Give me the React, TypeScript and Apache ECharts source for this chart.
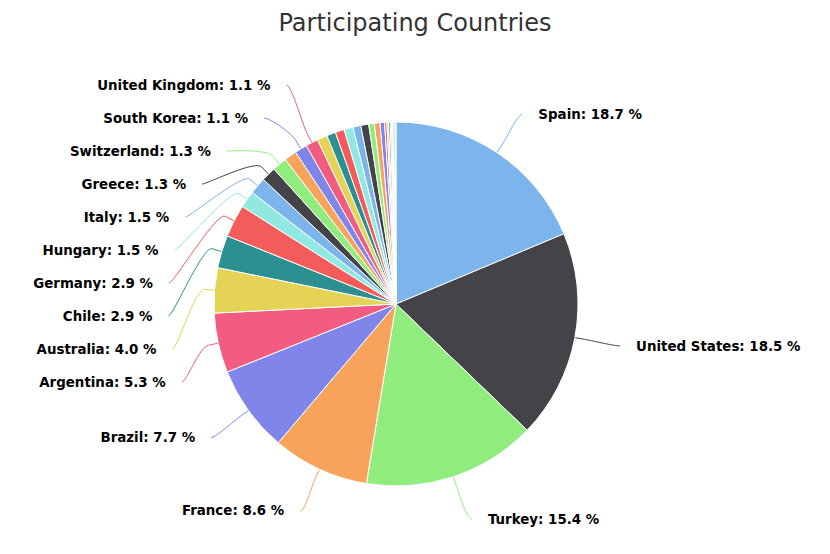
import React, { useEffect, useRef } from 'react';
import * as echarts from 'echarts';

const titleText = 'Participating Countries';

const countries = [
  'Spain', 'United States', 'Turkey', 'France', 'Brazil', 'Argentina', 'Australia',
  'Chile', 'Germany', 'Hungary', 'Italy', 'Greece', 'Switzerland', 'Other 1',
  'South Korea', 'United Kingdom',
  'Other 2', 'Other 3', 'Other 4', 'Other 5', 'Other 6', 'Other 7', 'Other 8',
  'Other 9', 'Other 10', 'Other 11', 'Other 12', 'Other 13', 'Other 14', 'Other 15',
  'Other 16', 'Other 17', 'Other 18',
];

const shares = [
  18.7, 18.5, 15.4, 8.6, 7.7, 5.3, 4.0,
  2.9, 2.9, 1.5, 1.5, 1.3, 1.3, 1.1,
  1.1, 1.1,
  0.9, 0.8, 0.8, 0.8, 0.7, 0.7, 0.5,
  0.5, 0.4, 0.2, 0.15, 0.15, 0.1, 0.1,
  0.1, 0.1, 0.1,
];

const labelledCountries = [
  'Spain', 'United States', 'Turkey', 'France', 'Brazil', 'Argentina', 'Australia',
  'Chile', 'Germany', 'Hungary', 'Italy', 'Greece', 'Switzerland', 'South Korea',
  'United Kingdom',
];

const palette = ['#7cb5ec', '#434348', '#90ed7d', '#f7a35c', '#8085e9', '#f15c80', '#e4d354', '#2b908f', '#f45b5b', '#91e8e1'];

// layout constants
const CX = 396;
const CY = 304;
const R_PIE = 182;
const R_LBL = 228;
const GAP = 16;
const LINE_H = 33;
const TOP = 85;
const BOTTOM = 519;
const BREAK = 10;
const SOFT = 5;
const STEPS = 20;

type LabelPos = { x: number; y: number; align: string; pts: number[][] };

function cubic(p0: number[], c1: number[], c2: number[], p1: number[], t: number) {
  const u = 1 - t;
  const a = u * u * u, b = 3 * u * u * t, c = 3 * u * t * t, d = t * t * t;
  return [
    a * p0[0] + b * c1[0] + c * c2[0] + d * p1[0],
    a * p0[1] + b * c1[1] + c * c2[1] + d * p1[1],
  ];
}

function computeLabels(): Record<number, LabelPos> {
  const total = shares.reduce((a, b) => a + b, 0);
  let cum = 0;
  const items: any[] = [];
  shares.forEach((v, i) => {
    const mid = (cum + v / 2) / total;
    cum += v;
    if (!labelledCountries.includes(countries[i])) return;
    const th = mid * Math.PI * 2;
    const s = Math.sin(th), c = Math.cos(th);
    items.push({
      i, th, s, c,
      ideal: CY - R_LBL * c,
      side: s < 0 ? 'left' : 'right',
    });
  });
  const out: Record<number, LabelPos> = {};
  ['left', 'right'].forEach((side) => {
    const list = items.filter((it) => it.side === side).sort((a, b) => a.ideal - b.ideal);
    let clusters = list.map((it) => ({ members: [it], start: 0 }));
    const place = (cl: any) => {
      const n = cl.members.length;
      const mean = cl.members.reduce((a: number, m: any) => a + m.ideal, 0) / n;
      let st = mean - ((n - 1) * LINE_H) / 2;
      st = Math.max(TOP, Math.min(BOTTOM - (n - 1) * LINE_H, st));
      cl.start = st;
    };
    clusters.forEach(place);
    let merged = true;
    while (merged) {
      merged = false;
      for (let k = 1; k < clusters.length; k++) {
        const prev = clusters[k - 1];
        const cur = clusters[k];
        if (cur.start < prev.start + prev.members.length * LINE_H - 0.01) {
          const nc = { members: prev.members.concat(cur.members), start: 0 };
          place(nc);
          clusters.splice(k - 1, 2, nc);
          merged = true;
          break;
        }
      }
    }
    clusters.forEach((cl) => {
      cl.members.forEach((m: any, j: number) => {
        const y = cl.start + j * LINE_H;
        let dy = y - CY;
        if (dy < -200) dy = -200;
        const dx = Math.sqrt(Math.max(0, R_LBL * R_LBL - dy * dy));
        const left = side === 'left';
        const xEnd = left ? CX - dx : CX + dx;
        const touch = [CX + R_PIE * m.s, CY - R_PIE * m.c];
        const brk = [CX + (R_PIE + BREAK) * m.s, CY - (R_PIE + BREAK) * m.c];
        const c2 = [2 * brk[0] - touch[0], 2 * brk[1] - touch[1]];
        const end = [xEnd, y];
        const c1 = [left ? xEnd + SOFT : xEnd - SOFT, y];
        const pts: number[][] = [touch];
        for (let k = STEPS; k >= 0; k--) {
          pts.push(cubic(end, c1, c2, brk, k / STEPS));
        }
        out[m.i] = {
          x: left ? xEnd - GAP : xEnd + GAP,
          y,
          align: left ? 'right' : 'left',
          pts,
        };
      });
    });
  });
  return out;
}

export default function App() {
  const ref = useRef<HTMLDivElement>(null);
  useEffect(() => {
    if (!ref.current) return;
    const chart = echarts.init(ref.current, undefined, { renderer: 'svg' });
    const labels = computeLabels();
    const data = countries.map((name, i) => {
      const show = labelledCountries.includes(name);
      return {
        name,
        value: shares[i],
        label: { show },
        labelLine: { show },
      };
    });
    chart.setOption({
      animation: false,
      color: palette,
      title: {
        text: titleText,
        left: 'center',
        top: 6,
        textStyle: {
          fontFamily: 'DejaVu Sans',
          fontSize: 24,
          fontWeight: 'normal',
          color: '#333333',
        },
      },
      series: [
        {
          type: 'pie',
          center: [CX, CY],
          radius: R_PIE,
          startAngle: 90,
          clockwise: true,
          avoidLabelOverlap: false,
          emphasis: { disabled: true },
          itemStyle: { borderColor: '#ffffff', borderWidth: 1 },
          label: {
            show: true,
            position: 'outer',
            formatter: (p: any) => `${p.name}: ${p.percent.toFixed(1)} %`,
            fontFamily: 'DejaVu Sans',
            fontSize: 13.4,
            fontWeight: 'bold',
            color: '#000000',
          },
          labelLine: { show: true, smooth: false, lineStyle: { width: 1 } },
          labelLayout: (params: any) => {
            const l = labels[params.dataIndex];
            if (!l) return {};
            return {
              x: l.x,
              y: l.y,
              align: l.align,
              verticalAlign: 'middle',
              labelLinePoints: l.pts,
            };
          },
          data,
        },
      ],
    });
    return () => chart.dispose();
  }, []);
  return (
    <div
      ref={ref}
      style={{ position: 'fixed', left: 0, top: 0, width: 830, height: 554, background: '#ffffff' }}
    />
  );
}
